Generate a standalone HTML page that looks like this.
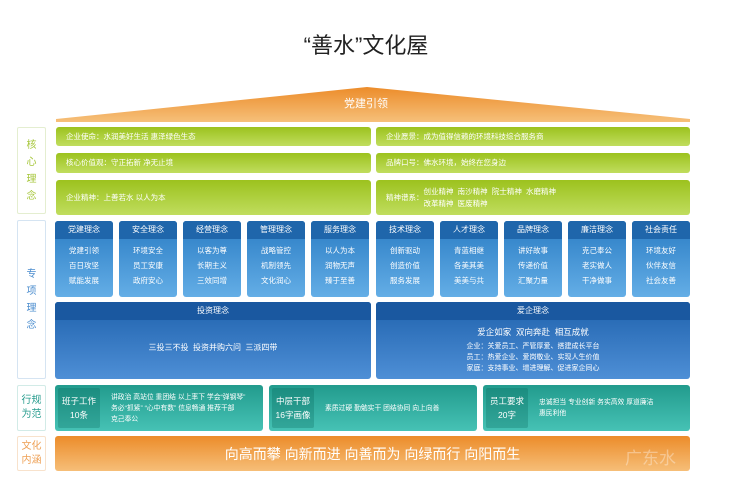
<!DOCTYPE html>
<html><head><meta charset="utf-8"><style>
*{margin:0;padding:0;box-sizing:border-box}
body{width:732px;height:487px;background:#fff;position:relative;overflow:hidden;font-family:"Liberation Sans","Noto Sans CJK SC",sans-serif}
.a{position:absolute}
.lbl{position:absolute;left:17px;width:29px;border:1px solid;border-radius:2px;display:flex;align-items:center;justify-content:center;text-align:center;font-size:10px;line-height:17px}
.g{position:absolute;border-radius:3px;background:linear-gradient(#9cc21e,#c0dd5e);color:#fff;font-size:7.5px;padding-left:10px;display:flex;align-items:center;line-height:12px}
.card{position:absolute;top:221px;width:58px;height:76px;border-radius:3px;background:linear-gradient(#2a7cc4,#64aee6);color:#fff;text-align:center;overflow:hidden}
.card .h{height:18px;background:#1f66ab;font-size:8px;line-height:18px}
.card .b{font-size:7.5px;line-height:15px;padding-top:4px}
.big{position:absolute;top:302px;height:77px;border-radius:3px;background:linear-gradient(#1f62ad,#4e8fd6);color:#fff;text-align:center;overflow:hidden}
.big .h{height:18px;background:#1a58a0;font-size:8px;line-height:18px}
.t{position:absolute;top:385px;height:46px;border-radius:3px;background:linear-gradient(#229b8d,#46c2b5);color:#fff}
.t .k{position:absolute;left:3px;top:3px;width:42px;height:40px;background:rgba(0,90,80,.25);border-radius:2px;font-size:8.5px;line-height:14px;text-align:center;display:flex;align-items:center;justify-content:center}
.t .d{position:absolute;left:56px;top:0;height:46px;display:flex;align-items:center;font-size:6.8px;line-height:11px}
</style></head><body>
<div class="a" style="left:0;top:28px;width:732px;text-align:center;font-size:22px;color:#222">“善水”文化屋</div>
<svg class="a" style="left:0;top:0" width="732" height="487"><defs><linearGradient id="o" x1="0" y1="0" x2="0" y2="1"><stop offset="0" stop-color="#ec8c2a"/><stop offset="1" stop-color="#f6c07a"/></linearGradient></defs><polygon points="56,119 367,87 690,119 690,122 56,122" fill="url(#o)"/></svg>
<div class="a" style="left:0;top:95px;width:732px;text-align:center;font-size:11px;color:#fff">党建引领</div>

<div class="lbl" style="top:127px;height:87px;border-color:#e4eed0;color:#a6c63a">核<br>心<br>理<br>念</div>
<div class="lbl" style="top:220px;height:159px;border-color:#d5e4f2;color:#4a8cce">专<br>项<br>理<br>念</div>
<div class="lbl" style="top:385px;height:46px;border-color:#d2ebe7;color:#2a9d8f;line-height:14px">行规<br>为范</div>
<div class="lbl" style="top:436px;height:35px;border-color:#f8e2cc;color:#eea055;line-height:14px">文化<br>内涵</div>

<div class="g" style="left:56px;top:127px;width:315px;height:19px">企业使命：水润美好生活 惠泽绿色生态</div>
<div class="g" style="left:56px;top:153px;width:315px;height:20px">核心价值观：守正拓新 净无止境</div>
<div class="g" style="left:56px;top:180px;width:315px;height:35px">企业精神：上善若水 以人为本</div>
<div class="g" style="left:376px;top:127px;width:314px;height:19px">企业愿景：成为值得信赖的环境科技综合服务商</div>
<div class="g" style="left:376px;top:153px;width:314px;height:20px">品牌口号：佛水环境，始终在您身边</div>
<div class="g" style="left:376px;top:180px;width:314px;height:35px"><span>精神谱系：</span><span>创业精神&nbsp; 南沙精神&nbsp; 院士精神&nbsp; 水磨精神<br>改革精神&nbsp; 医废精神</span></div>

<div class="card" style="left:55px"><div class="h">党建理念</div><div class="b">党建引领<br>百日攻坚<br>赋能发展</div></div>
<div class="card" style="left:119px"><div class="h">安全理念</div><div class="b">环境安全<br>员工安康<br>政府安心</div></div>
<div class="card" style="left:183px"><div class="h">经营理念</div><div class="b">以客为尊<br>长期主义<br>三效同增</div></div>
<div class="card" style="left:247px"><div class="h">管理理念</div><div class="b">战略管控<br>机制领先<br>文化润心</div></div>
<div class="card" style="left:311px"><div class="h">服务理念</div><div class="b">以人为本<br>润物无声<br>臻于至善</div></div>
<div class="card" style="left:376px"><div class="h">技术理念</div><div class="b">创新驱动<br>创造价值<br>服务发展</div></div>
<div class="card" style="left:440px"><div class="h">人才理念</div><div class="b">青蓝相继<br>各美其美<br>美美与共</div></div>
<div class="card" style="left:504px"><div class="h">品牌理念</div><div class="b">讲好故事<br>传递价值<br>汇聚力量</div></div>
<div class="card" style="left:568px"><div class="h">廉洁理念</div><div class="b">克己奉公<br>老实做人<br>干净做事</div></div>
<div class="card" style="left:632px"><div class="h">社会责任</div><div class="b">环境友好<br>伙伴友信<br>社会友善</div></div>

<div class="big" style="left:55px;width:316px"><div class="h">投资理念</div><div style="font-size:8px;margin-top:22px">三投三不投&nbsp; 投资并购六问&nbsp; 三派四带</div></div>
<div class="big" style="left:376px;width:314px"><div class="h">爱企理念</div><div style="font-size:8.5px;margin-top:5px;line-height:14px">爱企如家&nbsp; 双向奔赴&nbsp; 相互成就</div><div style="font-size:7px;line-height:11px;margin-top:2px">企业：关爱员工、严管厚爱、搭建成长平台<br>员工：热爱企业、爱岗敬业、实现人生价值<br>家庭：支持事业、增进理解、促进家企同心</div></div>

<div class="t" style="left:55px;width:208px"><div class="k">班子工作<br>10条</div><div class="d">讲政治 高站位 重团结 以上率下 学会“弹钢琴”<br>务必“抓紧” “心中有数” 信息畅通 推荐干部<br>克己奉公</div></div>
<div class="t" style="left:269px;width:208px"><div class="k">中层干部<br>16字画像</div><div class="d">素质过硬 勤勉实干 团结协同 向上向善</div></div>
<div class="t" style="left:483px;width:207px"><div class="k">员工要求<br>20字</div><div class="d">忠诚担当 专业创新 务实高效 厚道廉洁<br>惠民利他</div></div>

<div class="a" style="left:55px;top:436px;width:635px;height:35px;border-radius:3px;background:linear-gradient(#ec8c2a,#f6be78)"></div>
<div class="a" style="left:55px;top:444px;width:635px;text-align:center;color:#fff;font-size:14px">向高而攀 向新而进 向善而为 向绿而行 向阳而生</div>
<div class="a" style="left:625px;top:444px;font-size:17px;color:rgba(255,255,255,.35)">广东水</div>
</body></html>
